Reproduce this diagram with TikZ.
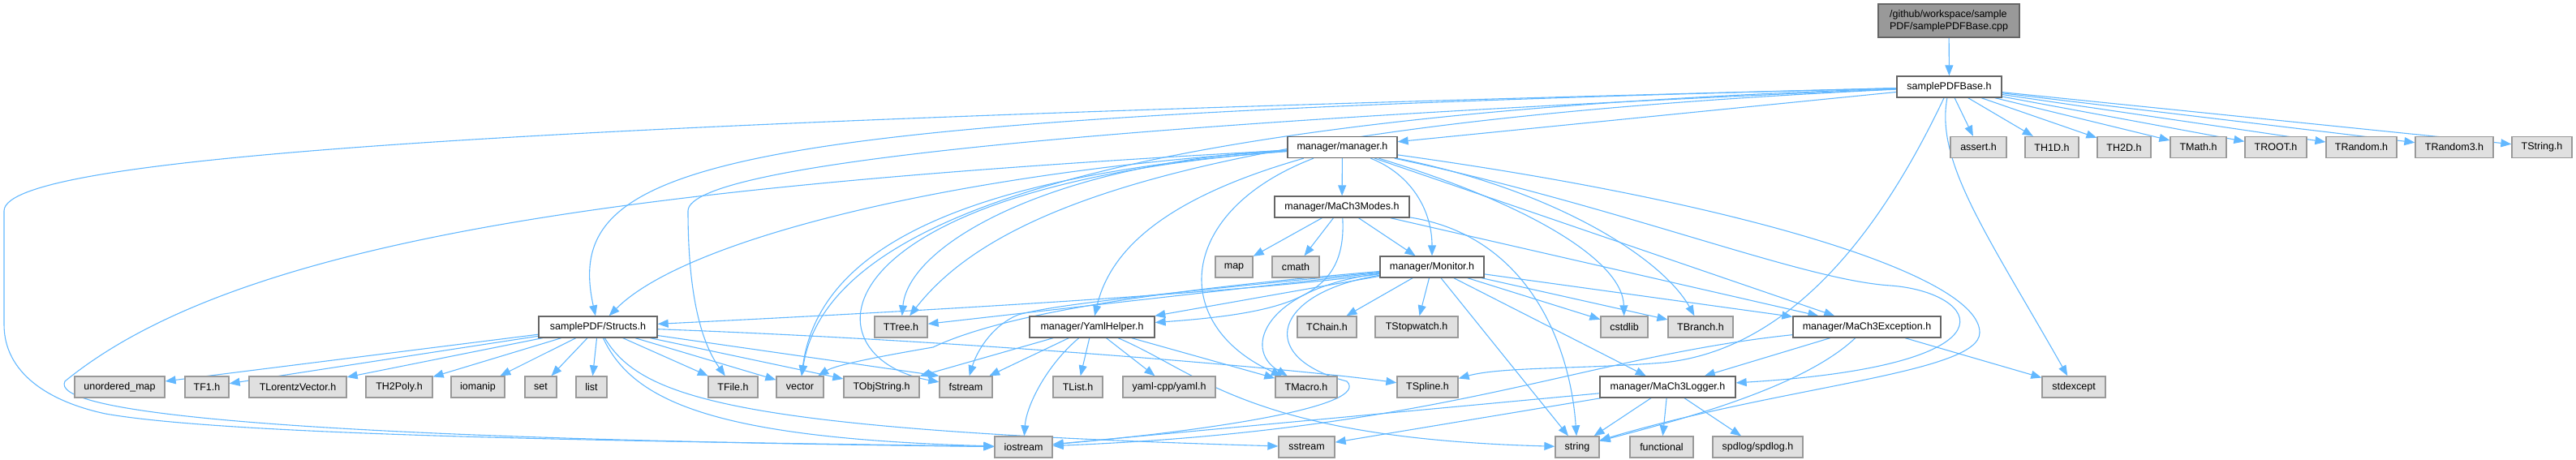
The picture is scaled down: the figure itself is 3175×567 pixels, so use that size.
\documentclass[tikz,border=0pt]{standalone}
\usepackage{fontspec}
\setmainfont{Liberation Sans}
\usetikzlibrary{arrows.meta}
\pgfdeclarelayer{edgelayer}
\pgfsetlayers{edgelayer,main}
\definecolor{edgec}{HTML}{63B8FF}
\definecolor{wbord}{HTML}{666666}
\definecolor{gfill}{HTML}{E0E0E0}
\definecolor{gbord}{HTML}{999999}
\definecolor{topfill}{HTML}{999999}
\begin{document}
\begin{tikzpicture}[x=0.5pt,y=0.5pt,
  nd/.style={draw, line width=0.65pt, inner sep=0pt, minimum height=13pt,
    font=\fontsize{6.25}{7.6}\selectfont, text=black},
  wn/.style={nd, fill=white, draw=wbord},
  gn/.style={nd, fill=gfill, draw=gbord},
  tn/.style={nd, fill=topfill, draw=wbord, align=left, minimum height=20.5pt},
  wd/.style={minimum width=#1*0.5pt},
  e/.style={draw=edgec, line width=0.55pt, -{Triangle[length=6.5pt,width=5pt]}},
]
\useasboundingbox (0,0) rectangle (3175,-567);

% row 0-2
\node[tn, wd=174] (ntop) at (2402,-25.5) {/github/workspace/sample\\PDF/samplePDFBase.cpp};
\node[wn, wd=129] (nsbase) at (2402.5,-107) {samplePDFBase.h};
\node[wn, wd=135] (nmgr) at (1654.5,-181.5) {manager/manager.h};
\node[gn, wd=69] (nassert) at (2438.5,-181.5) {assert.h};
\node[gn, wd=66] (nth1d) at (2529,-181.5) {TH1D.h};
\node[gn, wd=66] (nth2d) at (2618,-181.5) {TH2D.h};
\node[gn, wd=69] (ntmath) at (2709.5,-181.5) {TMath.h};
\node[gn, wd=76] (ntroot) at (2805,-181.5) {TROOT.h};
\node[gn, wd=87] (ntrandom) at (2910.5,-181.5) {TRandom.h};
\node[gn, wd=96] (ntrandomiii) at (3025,-181.5) {TRandom3.h};
\node[gn, wd=74] (ntstring) at (3133,-181.5) {TString.h};
% row 3-4
\node[wn, wd=166] (nmodes) at (1654,-255) {manager/MaCh3Modes.h};
\node[gn, wd=46] (nmap) at (1521,-329) {map};
\node[gn, wd=58] (ncmath) at (1597,-329) {cmath};
\node[wn, wd=128] (nmonitor) at (1765,-329) {manager/Monitor.h};
% row 5
\node[wn, wd=146] (nstructs) at (737,-403) {samplePDF/Structs.h};
\node[gn, wd=65] (nttree) at (1110.5,-403) {TTree.h};
\node[wn, wd=154] (nyaml) at (1346,-403) {manager/YamlHelper.h};
\node[gn, wd=73] (ntchain) at (1635.5,-403) {TChain.h};
\node[gn, wd=102] (ntstop) at (1746,-403) {TStopwatch.h};
\node[gn, wd=58] (ncstdlib) at (2002,-403) {cstdlib};
\node[gn, wd=80] (ntbranch) at (2096,-403) {TBranch.h};
\node[wn, wd=182] (nmexc) at (2301,-403) {manager/MaCh3Exception.h};
% row 6
\node[gn, wd=111] (numap) at (147.5,-477) {unordered\_map};
\node[gn, wd=54] (ntfi) at (255,-477) {TF1.h};
\node[gn, wd=120] (ntlv) at (367,-477) {TLorentzVector.h};
\node[gn, wd=82] (nthiipoly) at (492,-477) {TH2Poly.h};
\node[gn, wd=66] (niomanip) at (589,-477) {iomanip};
\node[gn, wd=39] (nset) at (666.5,-477) {set};
\node[gn, wd=38] (nlist) at (729,-477) {list};
\node[gn, wd=61] (ntfile) at (903.5,-477) {TFile.h};
\node[gn, wd=58] (nvector) at (986,-477) {vector};
\node[gn, wd=93] (ntobjstr) at (1086.5,-477) {TObjString.h};
\node[gn, wd=65] (nfstream) at (1190.5,-477) {fstream};
\node[gn, wd=61] (ntlist) at (1328.5,-477) {TList.h};
\node[gn, wd=114] (nyamlcpp) at (1441,-477) {yaml-cpp/yaml.h};
\node[gn, wd=76] (ntmacro) at (1610,-477) {TMacro.h};
\node[gn, wd=75] (ntspline) at (1759.5,-477) {TSpline.h};
\node[wn, wd=167] (nlogger) at (2055.5,-477) {manager/MaCh3Logger.h};
\node[gn, wd=78] (nstdexc) at (2556,-477) {stdexcept};
% row 7
\node[gn, wd=71] (niostream) at (1261.5,-551) {iostream};
\node[gn, wd=69] (nsstream) at (1610.5,-551) {sstream};
\node[gn, wd=54] (nstring) at (1944,-551) {string};
\node[gn, wd=78] (nfunctional) at (2048,-551) {functional};
\node[gn, wd=111] (nspdlog) at (2166.5,-551) {spdlog/spdlog.h};

\begin{pgfonlayer}{edgelayer}
% top
\draw[e] (ntop) -- (nsbase);
% samplePDFBase.h
\draw[e] (nsbase) -- (nmgr);
\draw[e] (nsbase) .. controls (900,-145) and (690,-190) .. (nstructs);
\draw[e] (nsbase) .. controls (700,-150) and (5,-190) .. (5,-260) -- (5,-400)
  .. controls (5,-460) and (60,-495) .. (130,-510) .. controls (300,-540) and (900,-545) .. (niostream);
\draw[e] (nsbase) .. controls (1400,-150) and (848,-200) .. (848,-260)
  .. controls (848,-380) and (870,-430) .. (ntfile);
\draw[e] (nsbase) .. controls (1400,-140) and (1020,-260) .. (nvector);
\draw[e] (nsbase) .. controls (1500,-150) and (1230,-250) .. (nttree);
\draw[e] (nsbase) .. controls (2385,-200) and (2450,-290) .. (nstdexc);
\draw[e] (nsbase) .. controls (2330,-260) and (2220,-430) .. (2050,-447)
  .. controls (1950,-455) and (1850,-452) .. (ntspline);
\draw[e] (nsbase) -- (nassert);
\draw[e] (nsbase) -- (nth1d);
\draw[e] (nsbase) -- (nth2d);
\draw[e] (nsbase) -- (ntmath);
\draw[e] (nsbase) -- (ntroot);
\draw[e] (nsbase) -- (ntrandom);
\draw[e] (nsbase) -- (ntrandomiii);
\draw[e] (nsbase) -- (ntstring);
% manager.h
\draw[e] (nmgr) -- (nmodes);
\draw[e] (nmgr) .. controls (1740,-215) and (1765,-260) .. (nmonitor);
\draw[e] (nmgr) .. controls (1880,-250) and (2000,-320) .. (ncstdlib);
\draw[e] (nmgr) .. controls (1920,-235) and (2050,-320) .. (ntbranch);
\draw[e] (nmgr) -- (nmexc);
\draw[e] (nmgr) .. controls (2150,-250) and (2440,-340) .. (2440,-410)
  .. controls (2440,-460) and (2200,-475) .. (nstring);
\draw[e] (nmgr) .. controls (2000,-255) and (2220,-345) .. (2330,-352)
  .. controls (2440,-360) and (2500,-450) .. (nlogger);
\draw[e] (nmgr) .. controls (1450,-240) and (1370,-300) .. (nyaml);
\draw[e] (nmgr) .. controls (1200,-210) and (850,-290) .. (nstructs);
\draw[e] (nmgr) .. controls (1300,-200) and (1120,-300) .. (nttree);
\draw[e] (nmgr) .. controls (1200,-215) and (1010,-300) .. (nvector);
\draw[e] (nmgr) .. controls (1000,-230) and (990,-440) .. (nfstream);
\draw[e] (nmgr) .. controls (800,-228) and (300,-290) .. (80,-470)
  .. controls (62,-505) and (300,-540) .. (niostream);
\draw[e] (nmgr) .. controls (1450,-260) and (1440,-400) .. (ntmacro);
% MaCh3Modes.h
\draw[e] (nmodes) -- (nmap);
\draw[e] (nmodes) -- (ncmath);
\draw[e] (nmodes) -- (nmonitor);
\draw[e] (nmodes) .. controls (1660,-360) and (1600,-385) .. (nyaml);
\draw[e] (nmodes) -- (nmexc);
\draw[e] (nmodes) .. controls (1880,-290) and (1935,-420) .. (nstring);
% Monitor.h
\draw[e] (nmonitor) -- (ntchain);
\draw[e] (nmonitor) -- (ntstop);
\draw[e] (nmonitor) -- (nstring);
\draw[e] (nmonitor) -- (nlogger);
\draw[e] (nmonitor) -- (ncstdlib);
\draw[e] (nmonitor) -- (ntbranch);
\draw[e] (nmonitor) -- (nmexc);
\draw[e] (nmonitor) .. controls (1500,-365) and (1000,-390) .. (nstructs);
\draw[e] (nmonitor) -- (nttree);
\draw[e] (nmonitor) -- (nyaml);
\draw[e] (nmonitor) .. controls (1400,-360) and (1230,-390) .. (1150,-428)
  .. controls (1080,-440) and (1030,-450) .. (nvector);
\draw[e] (nmonitor) .. controls (1450,-360) and (1300,-375) .. (1255,-388)
  .. controls (1225,-400) and (1205,-430) .. (nfstream);
\draw[e] (nmonitor) .. controls (1560,-355) and (1530,-430) .. (ntmacro);
\draw[e] (nmonitor) .. controls (1570,-360) and (1545,-440) .. (1660,-470)
  .. controls (1690,-500) and (1500,-530) .. (niostream);
% YamlHelper.h
\draw[e] (nyaml) -- (ntobjstr);
\draw[e] (nyaml) -- (nfstream);
\draw[e] (nyaml) .. controls (1290,-450) and (1265,-500) .. (niostream);
\draw[e] (nyaml) -- (ntlist);
\draw[e] (nyaml) -- (nyamlcpp);
\draw[e] (nyaml) -- (ntmacro);
\draw[e] (nyaml) .. controls (1480,-460) and (1540,-540) .. (nstring);
% Structs.h
\draw[e] (nstructs) -- (numap);
\draw[e] (nstructs) -- (ntfi);
\draw[e] (nstructs) -- (ntlv);
\draw[e] (nstructs) -- (nthiipoly);
\draw[e] (nstructs) -- (niomanip);
\draw[e] (nstructs) -- (nset);
\draw[e] (nstructs) -- (nlist);
\draw[e] (nstructs) -- (ntfile);
\draw[e] (nstructs) -- (nvector);
\draw[e] (nstructs) -- (ntobjstr);
\draw[e] (nstructs) -- (nfstream.north west);
\draw[e] (nstructs) .. controls (1200,-420) and (1600,-455) .. (ntspline);
\draw[e] (nstructs) .. controls (790,-490) and (900,-530) .. (nsstream);
\draw[e] (nstructs) .. controls (780,-495) and (880,-540) .. (niostream);
% MaCh3Exception.h
\draw[e] (nmexc) -- (nstdexc);
\draw[e] (nmexc) -- (nlogger);
\draw[e] (nmexc) .. controls (2220,-480) and (2060,-520) .. (nstring);
\draw[e] (nmexc) .. controls (1950,-440) and (1780,-530) .. (niostream);
% MaCh3Logger.h
\draw[e] (nlogger) -- (niostream);
\draw[e] (nlogger) -- (nsstream);
\draw[e] (nlogger) -- (nstring);
\draw[e] (nlogger) -- (nfunctional);
\draw[e] (nlogger) -- (nspdlog);
\end{pgfonlayer}
\end{tikzpicture}
\end{document}
